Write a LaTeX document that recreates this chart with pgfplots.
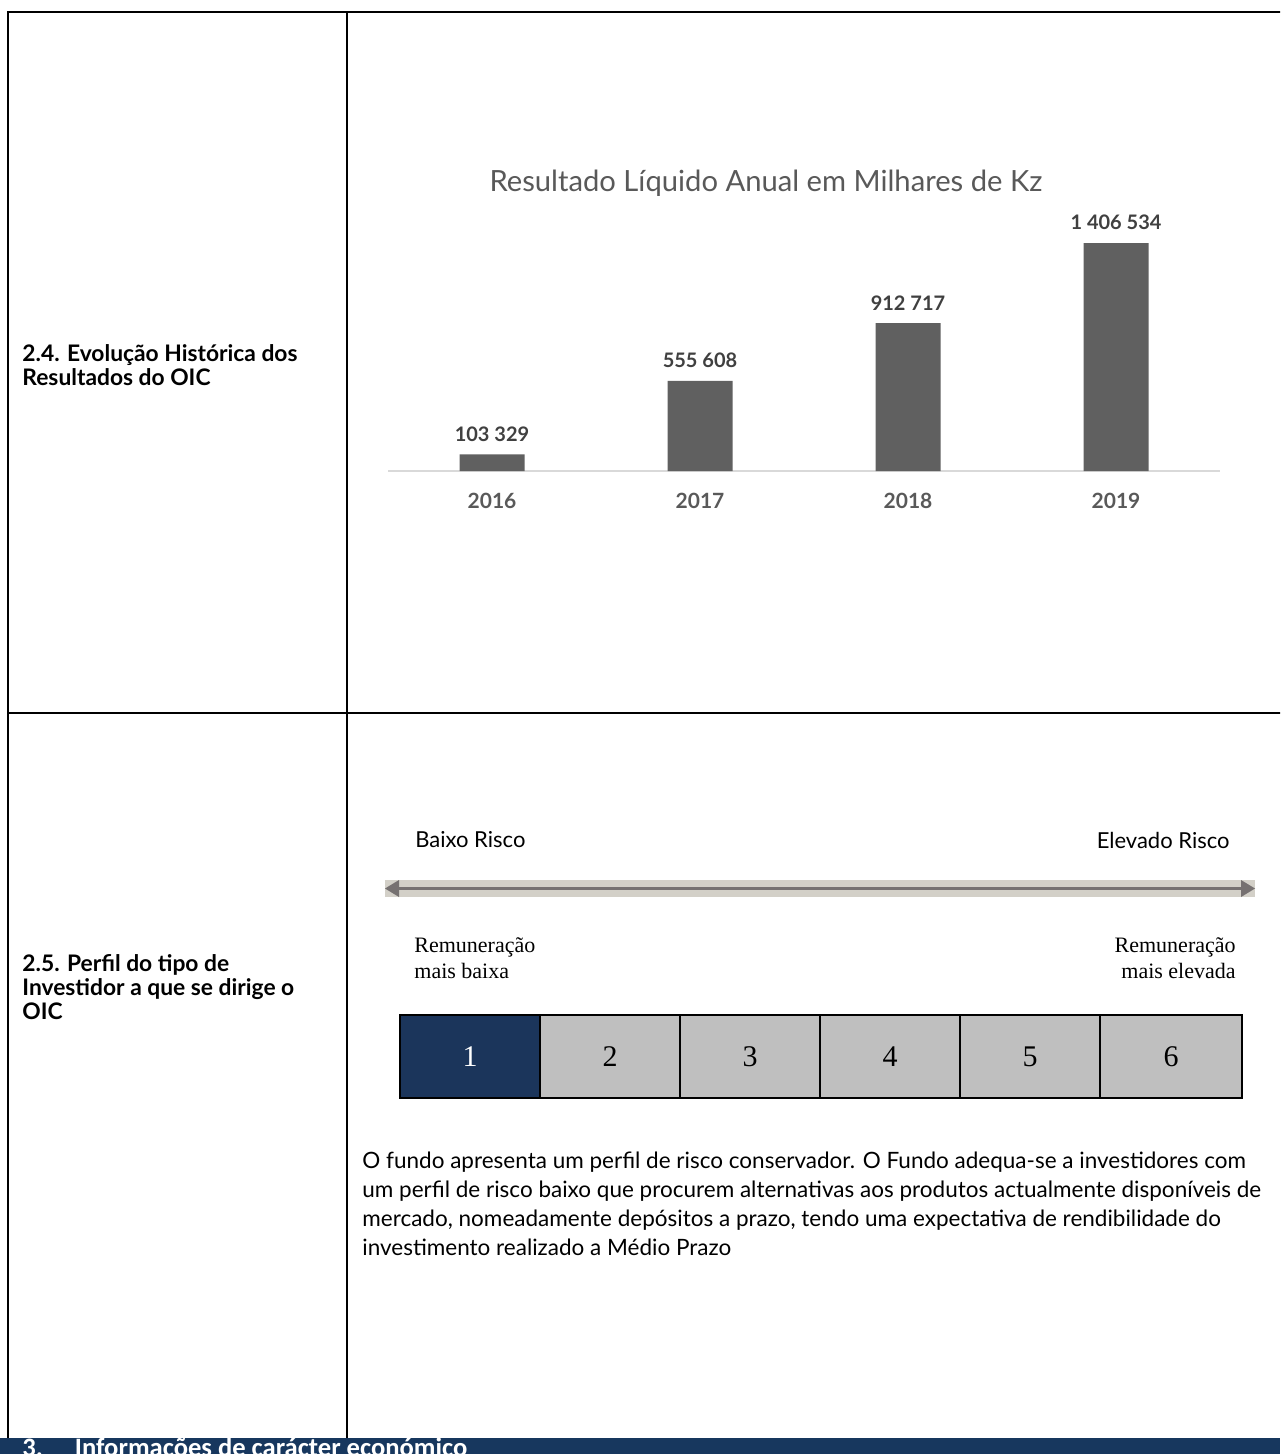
\documentclass[border=0pt]{standalone}
\usepackage{pgfplots}
\pgfplotsset{compat=1.18}
\usepackage{fontspec}
\setmainfont{Lato}
\newfontfamily\seriff{Liberation Serif}
\newfontfamily\hdrfont{Carlito}
\definecolor{navy}{HTML}{17375E}
\definecolor{cellnavy}{HTML}{1B355B}
\definecolor{cellgray}{HTML}{BFBFBF}
\definecolor{bargray}{HTML}{606060}
\definecolor{lblgray}{HTML}{404040}
\definecolor{yeargray}{HTML}{595959}
\definecolor{titlegray}{HTML}{595959}
\definecolor{axisgray}{HTML}{D9D9D9}
\definecolor{bandgray}{HTML}{D3D0C8}
\definecolor{arrowgray}{HTML}{767171}
\begin{document}
\begin{tikzpicture}
\begin{scope}[x=0.5pt,y=-0.5pt]
\useasboundingbox (0,0) rectangle (1280,1454);
\clip (0,0) rectangle (1280,1454);
% bottom header bar
\fill[navy] (0,1438) rectangle (1280,1470);
\node[anchor=north west, inner sep=0pt, text=white, font=\hdrfont\bfseries\fontsize{13.3}{14}\selectfont] at (22,1437) {3.\hspace{16pt}Informações de carácter económico};
% table lines
\draw[line width=1.1pt] (8,1438) -- (8,12) -- (1282,12);
\draw[line width=1.1pt] (8,713) -- (1282,713);
\draw[line width=1.1pt] (347,12) -- (347,1438);
% left labels
\node[anchor=north west, inner sep=0pt, align=left, font=\bfseries\fontsize{11.4}{12}\selectfont] at (22,344) {2.4. Evolução Histórica dos\\Resultados do OIC};
\node[anchor=north west, inner sep=0pt, align=left, font=\bfseries\fontsize{11.4}{12}\selectfont] at (22,954) {2.5. Perfil do tipo de\\Investidor a que se dirige o\\OIC};
% chart title
\node[text=titlegray, font=\fontsize{14.6}{16}\selectfont] at (766,183) {Resultado Líquido Anual em Milhares de Kz};
% risk section
\node[anchor=west, inner sep=0pt, font=\fontsize{11}{12}\selectfont] at (415,840) {Baixo Risco};
\node[anchor=east, inner sep=0pt, font=\fontsize{11}{12}\selectfont] at (1230,840) {Elevado Risco};
\fill[bandgray] (385,880) rectangle (1255,897);
\draw[arrowgray, line width=1.4pt] (392,888.5) -- (1248,888.5);
\fill[arrowgray] (385,888.5) -- (399,880) -- (399,897) -- cycle;
\fill[arrowgray] (1255,888.5) -- (1241,880) -- (1241,897) -- cycle;
\node[anchor=north west, inner sep=0pt, align=left, font=\seriff\fontsize{11}{13}\selectfont] at (414,937) {Remuneração\\ mais baixa};
\node[anchor=north east, inner sep=0pt, align=right, font=\seriff\fontsize{11}{13}\selectfont] at (1236,937) {Remuneração\\mais elevada };
% risk cells
\fill[cellnavy] (400,1015) rectangle (540,1098);
\fill[cellgray] (540,1015) rectangle (1242,1098);
\foreach \xx in {540,680,820,960,1100} \draw[line width=0.6pt] (\xx,1015) -- (\xx,1098);
\draw[line width=1.2pt] (400,1015) rectangle (1242,1098);
\node[text=white, font=\seriff\fontsize{15}{16}\selectfont] at (470,1057) {1};
\node[font=\seriff\fontsize{15}{16}\selectfont] at (610,1057) {2};
\node[font=\seriff\fontsize{15}{16}\selectfont] at (750,1057) {3};
\node[font=\seriff\fontsize{15}{16}\selectfont] at (890,1057) {4};
\node[font=\seriff\fontsize{15}{16}\selectfont] at (1030,1057) {5};
\node[font=\seriff\fontsize{15}{16}\selectfont] at (1171,1057) {6};
% paragraph
\node[anchor=north west, inner sep=0pt, align=left, font=\fontsize{11.25}{14.5}\selectfont] at (362,1152) {O fundo apresenta um perfil de risco conservador. O Fundo adequa-se a investidores com\\um perfil de risco baixo que procurem alternativas aos produtos actualmente disponíveis de\\mercado, nomeadamente depósitos a prazo, tendo uma expectativa de rendibilidade do\\investimento realizado a Médio Prazo};
\end{scope}
\begin{axis}[
  at={(194pt,-235.5pt)}, anchor=south west,
  scale only axis, width=416pt, height=121.5pt,
  xmin=-0.5, xmax=3.5, ymin=0, ymax=1500000,
  enlargelimits=false, clip=false,
  axis x line=bottom, axis y line=none,
  axis line style={draw=axisgray, line width=1pt, -},
  xtick={0,1,2,3}, xticklabels={2016,2017,2018,2019},
  major tick length=0pt,
  xticklabel style={font=\bfseries\fontsize{10.5}{12}\selectfont, text=yeargray, yshift=-7.5pt},
  ybar, bar width=32.5pt,
  point meta=explicit symbolic,
  nodes near coords,
  nodes near coords style={font=\bfseries\fontsize{10}{12}\selectfont, text=lblgray, anchor=south, yshift=3pt},
]
\addplot[fill=bargray, draw=none] coordinates {
  (0,103329) [103 329]
  (1,555608) [555 608]
  (2,912717) [912 717]
  (3,1406534) [1 406 534]
};
\end{axis}
\end{tikzpicture}
\end{document}
